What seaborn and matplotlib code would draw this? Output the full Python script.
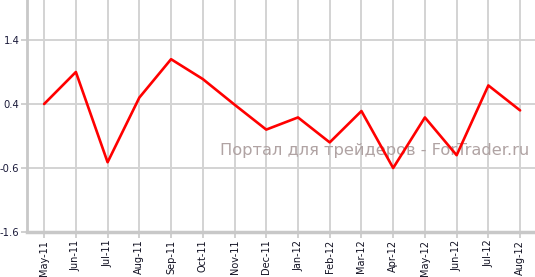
import matplotlib
matplotlib.use("Agg")
import matplotlib.pyplot as plt
import seaborn as sns
import pandas as pd

months = ["May-11", "Jun-11", "Jul-11", "Aug-11", "Sep-11", "Oct-11", "Nov-11", "Dec-11",
          "Jan-12", "Feb-12", "Mar-12", "Apr-12", "May-12", "Jun-12", "Jul-12", "Aug-12"]
values = [0.4, 0.9, -0.51, 0.5, 1.1, 0.79, 0.39, 0.0,
          0.19, -0.2, 0.29, -0.6, 0.19, -0.4, 0.69, 0.3]
y_ticks = [-1.6, -0.6, 0.4, 1.4]
watermark = "Портал для трейдеров - ForTrader.ru"

sns.set_style("white")
plt.rcParams["font.family"] = ["DejaVu Sans"]
plt.rcParams["axes.unicode_minus"] = False

W, H = 535, 277
fig = plt.figure(figsize=(W / 100, H / 100), dpi=100)
ax = fig.add_axes([27 / W, (H - 232) / H, (W - 27) / W, 232 / H])

df = pd.DataFrame({"month": months, "value": values, "pos": range(len(months))})
sns.lineplot(data=df, x="pos", y="value", ax=ax, color="#ff0000", linewidth=1.9,
             sort=False, zorder=5)

ax.set_xlim(-0.54, len(months) - 1 + 0.47)
ax.set_ylim(-1.6, 2.025)
ax.set_xticks(range(len(months)))
ax.set_xticklabels(months, rotation=90, fontsize=7, color="#111122")
ax.set_yticks(y_ticks)
ax.set_yticklabels([f"{v:.1f}" for v in y_ticks], fontsize=7.2, color="#1a1a3a")
ax.set_xlabel("")
ax.set_ylabel("")

ax.grid(True, color="#d3d3d3", linewidth=1.4)
ax.set_axisbelow(True)
for s in ["top", "right"]:
    ax.spines[s].set_visible(False)
ax.spines["left"].set_color("#c8c8c8")
ax.spines["left"].set_linewidth(2)
ax.spines["bottom"].set_color("#c8c8c8")
ax.spines["bottom"].set_linewidth(2.5)
ax.tick_params(axis="both", which="both", length=4, width=1.2, color="#c8c8c8", pad=1.5)
ax.tick_params(axis="x", bottom=True)
ax.tick_params(axis="y", left=True)

ax.text(0.684, 0.353, watermark, transform=ax.transAxes, ha="center", va="center",
        fontsize=11.7, color="#b0a3a3", zorder=3)

fig.savefig("out.png", dpi=100)
